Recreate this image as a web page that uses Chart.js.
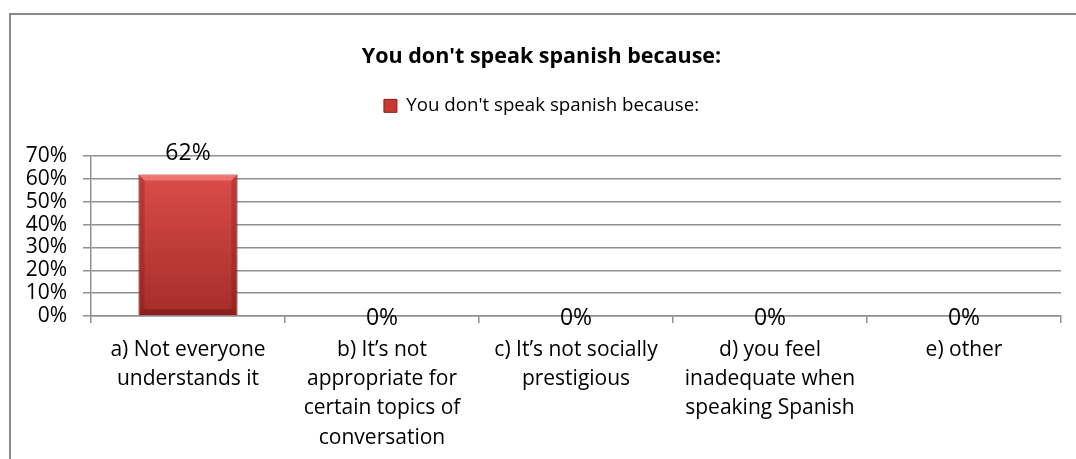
<!DOCTYPE html>
<html>
<head>
<meta charset="utf-8">
<script src="https://cdn.jsdelivr.net/npm/chart.js@4"></script>
<style>
  html, body { margin: 0; padding: 0; background: #fff; }
  #wrap { position: relative; width: 1076px; height: 459px; }
</style>
</head>
<body>
<div id="wrap"><canvas id="reasonsChart"></canvas></div>
<script>
const chartTitle = "You don't speak spanish because:";
const categories = [
  ["a) Not everyone", "understands it"],
  ["b) It\u2019s not", "appropriate for", "certain topics of", "conversation"],
  ["c) It\u2019s not socially", "prestigious"],
  ["d) you feel", "inadequate when", "speaking Spanish"],
  ["e) other"]
];
const percentValues = [62, 0, 0, 0, 0];
const yTicks = [0, 10, 20, 30, 40, 50, 60, 70];

const FONT = "'Open Sans', 'Noto Sans', sans-serif";
const GRID = "#8f8f8f";

// frame around the chart (only top and left edges fall inside the canvas)
const framePlugin = {
  id: "frame",
  beforeDraw(chart) {
    const c = chart.ctx;
    c.save();
    c.strokeStyle = "#8a8a8a";
    c.lineWidth = 2;
    c.beginPath();
    c.moveTo(10, 470);
    c.lineTo(10, 14);
    c.lineTo(1090, 14);
    c.stroke();
    c.restore();
  }
};

// value labels for each bar, plus a bevelled edge on the bars
const barLabelPlugin = {
  id: "barLabels",
  afterDatasetsDraw(chart) {
    const c = chart.ctx;
    const meta = chart.getDatasetMeta(0);
    c.save();
    meta.data.forEach((bar, i) => {
      const v = chart.data.datasets[0].data[i];
      const half = bar.width / 2;
      const h = bar.base - bar.y;
      if (h > 8) {
        const left = bar.x - half, right = bar.x + half, top = bar.y, base = bar.base;
        const b = 6;
        c.fillStyle = "rgba(255,150,145,0.55)";
        c.beginPath();
        c.moveTo(left, top); c.lineTo(right, top);
        c.lineTo(right - b, top + b); c.lineTo(left + b, top + b);
        c.closePath(); c.fill();
        c.fillStyle = "rgba(110,10,10,0.25)";
        c.beginPath();
        c.moveTo(left, top); c.lineTo(left + b, top + b);
        c.lineTo(left + b, base - b); c.lineTo(left, base);
        c.closePath(); c.fill();
        c.beginPath();
        c.moveTo(right, top); c.lineTo(right - b, top + b);
        c.lineTo(right - b, base - b); c.lineTo(right, base);
        c.closePath(); c.fill();
        c.fillStyle = "rgba(90,5,5,0.35)";
        c.beginPath();
        c.moveTo(left, base); c.lineTo(left + b, base - b);
        c.lineTo(right - b, base - b); c.lineTo(right, base);
        c.closePath(); c.fill();
      }
      c.fillStyle = "#000";
      c.font = "23px " + FONT;
      c.textAlign = "center";
      c.textBaseline = "middle";
      const ly = v > 0 ? bar.y - 21 : bar.base + 2;
      c.fillText(v + "%", bar.x, ly);
    });
    c.restore();
  }
};

const ctx = document.getElementById("reasonsChart").getContext("2d");

new Chart(ctx, {
  type: "bar",
  data: {
    labels: categories,
    datasets: [{
      label: chartTitle,
      data: percentValues,
      backgroundColor: function (context) {
        const area = context.chart.chartArea;
        if (!area) return "#c9403c";
        const g = context.chart.ctx.createLinearGradient(0, area.top, 0, area.bottom);
        g.addColorStop(0, "#e0504c");
        g.addColorStop(1, "#a62d29");
        return g;
      },
      borderColor: "#8a1f1c",
      borderWidth: 1,
      barPercentage: 0.51,
      categoryPercentage: 1
    }]
  },
  options: {
    responsive: true,
    maintainAspectRatio: false,
    animation: false,
    layout: { padding: { left: 22, right: 15, top: 0, bottom: 0 } },
    plugins: {
      tooltip: { enabled: false },
      title: {
        display: true,
        text: chartTitle,
        color: "#000",
        font: { family: FONT, size: 21.5, weight: "bold", lineHeight: 1 },
        padding: { top: 46, bottom: 0 }
      },
      legend: {
        display: true,
        labels: {
          color: "#000",
          font: { family: FONT, size: 18.7 },
          boxWidth: 13,
          boxHeight: 13,
          padding: 29,
          generateLabels: function (chart) {
            return [{
              text: chart.data.datasets[0].label,
              fillStyle: "#c63a36",
              strokeStyle: "#8a1f1c",
              lineWidth: 1,
              datasetIndex: 0
            }];
          }
        }
      }
    },
    scales: {
      x: {
        afterFit: function (scale) { scale.height = 143; },
        grid: {
          offset: true,
          drawOnChartArea: false,
          drawTicks: true,
          tickLength: 7,
          color: GRID,
          lineWidth: 1.5
        },
        border: { color: GRID, width: 1.5 },
        ticks: {
          color: "#000",
          font: { family: FONT, size: 21, lineHeight: 1.4 },
          padding: 12,
          maxRotation: 0,
          autoSkip: false
        }
      },
      // empty band between the legend and the plot
      xTop: {
        type: "category",
        position: "top",
        afterFit: function (scale) { scale.height = 31; },
        grid: { display: false },
        border: { display: false },
        ticks: { display: false }
      },
      y: {
        min: 0,
        max: 70,
        afterFit: function (scale) { scale.width = 69; },
        afterBuildTicks: function (scale) {
          scale.ticks = yTicks.map(v => ({ value: v }));
        },
        grid: {
          color: GRID,
          lineWidth: 1.5,
          tickLength: 8
        },
        border: { color: GRID, width: 1.5 },
        ticks: {
          color: "#000",
          font: { family: FONT, size: 21, lineHeight: 1 },
          padding: 16,
          autoSkip: false,
          callback: v => v + "%"
        }
      }
    }
  },
  plugins: [framePlugin, barLabelPlugin]
});
</script>
</body>
</html>
